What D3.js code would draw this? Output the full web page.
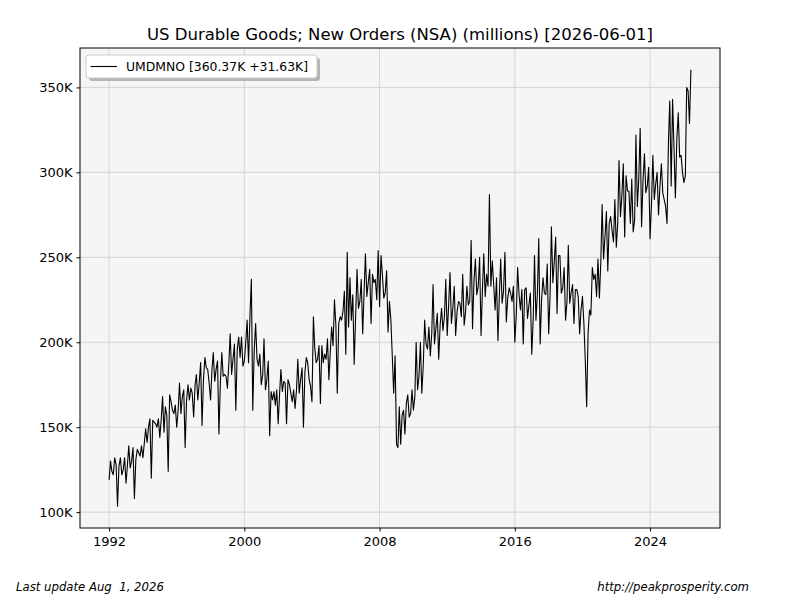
<!DOCTYPE html>
<html>
<head>
<meta charset="utf-8">
<script src="https://cdn.jsdelivr.net/npm/d3@7"></script>
<style>
  body { margin: 0; background: #fff; }
  svg { display: block; font-family: "DejaVu Sans", sans-serif; }
  .grid line { stroke: #cccccc; stroke-width: 0.8; }
  .axis path, .axis line { stroke: #000; }
  .axis text { font-size: 13px; fill: #000; font-family: "DejaVu Sans", sans-serif; }
  .note { white-space: pre; }
</style>
</head>
<body>
<svg width="800" height="600"></svg>
<script>
// monthly values, thousands (K), Jan 1992 .. Jun 2026
const startYear = 1992;
const values = [
  119, 130, 124, 122, 132, 128, 103.5, 127, 132, 122, 125, 132,   // 1992
  117, 128, 139, 126, 130, 138, 108, 131, 137, 135, 133, 139,     // 1993
  132, 141, 149, 141, 150, 155, 120, 154, 153, 152, 150, 155,     // 1994
  144, 155, 168, 147, 162, 157, 124, 169, 165, 160, 158, 163,     // 1995
  150, 160, 176, 158, 168, 172, 138, 166, 175, 166, 173, 170,     // 1996
  156, 175, 181, 166, 176, 188, 151, 178, 191, 185, 184, 176,     // 1997
  166, 184, 194, 177, 184, 189, 146, 176, 194, 180, 181, 180,     // 1998
  173, 188, 205, 181, 190, 199, 160, 196, 203, 191, 203, 186,     // 1999
  189, 200, 213, 188, 215, 237, 160, 195, 211, 190, 186, 193,     // 2000
  175, 181, 202, 172, 178, 189, 145, 171, 166, 171, 163, 172,     // 2001
  152, 170, 184, 171, 177, 176, 152, 178, 175, 170, 165, 172,     // 2002
  161, 172, 190, 170, 178, 185, 150, 182, 191, 188, 178, 174,     // 2003
  165, 215, 197, 188, 190, 198, 164, 198, 188, 193, 190, 202,     // 2004
  178, 195, 209, 198, 225, 210, 170, 211, 215, 213, 218, 230,     // 2005
  193, 253, 209, 238, 213, 228, 187, 215, 243, 220, 224, 237,     // 2006
  205, 230, 252, 227, 235, 243, 211, 240, 235, 237, 225, 254,     // 2007
  221, 251, 240, 226, 229, 242, 206, 224, 213, 192, 170, 192,     // 2008
  140, 138, 162, 140, 157, 160, 146, 164, 169, 156, 158, 172,     // 2009
  160, 168, 200, 172, 180, 200, 170, 186, 213, 199, 196, 209,     // 2010
  192, 205, 234, 199, 208, 217, 190, 210, 220, 207, 215, 237,     // 2011
  204, 222, 241, 211, 220, 233, 204, 218, 224, 223, 215, 240,     // 2012
  210, 218, 233, 222, 224, 260, 208, 236, 249, 228, 233, 250,     // 2013
  204, 232, 252, 227, 240, 233, 287, 233, 248, 234, 219, 238,     // 2014
  201, 228, 249, 223, 230, 253, 212, 226, 232, 229, 224, 233,     // 2015
  200, 216, 244, 228, 219, 231, 199, 231, 232, 214, 222, 229,     // 2016
  193, 214, 251, 213, 228, 261, 199, 225, 238, 229, 228, 246,     // 2017
  205, 228, 268, 235, 247, 262, 217, 251, 251, 229, 232, 244,     // 2018
  213, 224, 257, 223, 229, 234, 211, 231, 231, 227, 205, 219,     // 2019
  227, 211, 190, 162, 205, 219, 216, 244, 237, 240, 227, 249,     // 2020
  226, 248, 281, 249, 262, 277, 242, 270, 274, 266, 259, 284,     // 2021
  256, 270, 307, 274, 286, 305, 262, 298, 289, 289, 270, 296,     // 2022
  265, 272, 322, 280, 296, 326, 268, 295, 311, 288, 292, 303,     // 2023
  261, 282, 310, 284, 293, 300, 275, 292, 305, 288, 284, 280,     // 2024
  270, 318, 342, 292, 343, 314, 285, 320, 335, 309, 310, 300,     // 2025
  294, 298, 350, 348, 328.74, 360.37                              // 2026
];
const yTicks = [100, 150, 200, 250, 300, 350];
const xTickYears = [1992, 2000, 2008, 2016, 2024];
const seriesName = "UMDMNO";
const titleText = "US Durable Goods; New Orders (NSA) (millions) [2026-06-01]";
const leftNote = "Last update Aug  1, 2026";
const rightNote = "http://peakprosperity.com";

const data = values.map((v, i) => ({ date: new Date(startYear, i, 1), value: v }));
const last = data[data.length - 1].value;
const change = last - data[data.length - 2].value;

const svg = d3.select("svg");
const margin = { top: 48, right: 80, bottom: 72, left: 80 };
const width = 800 - margin.left - margin.right;
const height = 600 - margin.top - margin.bottom;

// matplotlib style 5% padding on both axes
const xExt = d3.extent(data, d => +d.date);
const xPad = (xExt[1] - xExt[0]) * 0.05;
const yExt = d3.extent(data, d => d.value);
const yPad = (yExt[1] - yExt[0]) * 0.05;

const x = d3.scaleTime()
    .domain([new Date(xExt[0] - xPad), new Date(xExt[1] + xPad)])
    .range([0, width]);
const y = d3.scaleLinear()
    .domain([yExt[0] - yPad, yExt[1] + yPad])
    .range([height, 0]);

const g = svg.append("g").attr("transform", `translate(${margin.left},${margin.top})`);

g.append("rect")
    .attr("width", width)
    .attr("height", height)
    .attr("fill", "#f5f5f5");

const xTicks = xTickYears.map(yr => new Date(yr, 0, 1));

// grid
g.append("g").attr("class", "grid")
    .selectAll("line").data(xTicks).join("line")
    .attr("x1", d => x(d)).attr("x2", d => x(d))
    .attr("y1", 0).attr("y2", height);
g.append("g").attr("class", "grid")
    .selectAll("line").data(yTicks).join("line")
    .attr("x1", 0).attr("x2", width)
    .attr("y1", d => y(d)).attr("y2", d => y(d));

// series line
const line = d3.line()
    .x(d => x(d.date))
    .y(d => y(d.value));

g.append("path")
    .datum(data)
    .attr("fill", "none")
    .attr("stroke", "#000")
    .attr("stroke-width", 1.1)
    .attr("stroke-linejoin", "round")
    .attr("d", line);

// frame
g.append("rect")
    .attr("width", width)
    .attr("height", height)
    .attr("fill", "none")
    .attr("stroke", "#000")
    .attr("stroke-width", 1);

// axes
g.append("g")
    .attr("class", "axis")
    .attr("transform", `translate(0,${height})`)
    .call(d3.axisBottom(x).tickValues(xTicks).tickFormat(d3.timeFormat("%Y")).tickSizeInner(3.5).tickSizeOuter(0).tickPadding(5))
    .call(a => a.select(".domain").remove());

g.append("g")
    .attr("class", "axis")
    .call(d3.axisLeft(y).tickValues(yTicks).tickFormat(d => d + "K").tickSizeInner(3.5).tickSizeOuter(0).tickPadding(4))
    .call(a => a.select(".domain").remove());

// title
svg.append("text")
    .attr("x", margin.left + width / 2)
    .attr("y", 40)
    .attr("text-anchor", "middle")
    .attr("font-size", "16.5px")
    .text(titleText);

// legend
const legend = g.append("g").attr("transform", "translate(6,7)");
const legendText = `${seriesName} [${last.toFixed(2)}K +${change.toFixed(2)}K]`;
legend.append("rect")
    .attr("x", 3).attr("y", 3)
    .attr("width", 231).attr("height", 23)
    .attr("rx", 3)
    .attr("fill", "#888").attr("opacity", 0.6);
legend.append("rect")
    .attr("width", 231).attr("height", 23)
    .attr("rx", 3)
    .attr("fill", "#fff")
    .attr("stroke", "#ccc");
legend.append("line")
    .attr("x1", 4.5).attr("x2", 31)
    .attr("y1", 11.5).attr("y2", 11.5)
    .attr("stroke", "#000").attr("stroke-width", 1.1);
legend.append("text")
    .attr("x", 40).attr("y", 16)
    .attr("font-size", "12.4px")
    .text(legendText);

// footer notes
svg.append("text")
    .attr("class", "note")
    .attr("x", 16).attr("y", 591)
    .attr("font-size", "11.7px")
    .attr("font-style", "italic")
    .text(leftNote);
svg.append("text")
    .attr("class", "note")
    .attr("x", 749).attr("y", 591)
    .attr("text-anchor", "end")
    .attr("font-size", "11.7px")
    .attr("font-style", "italic")
    .text(rightNote);
</script>
</body>
</html>
